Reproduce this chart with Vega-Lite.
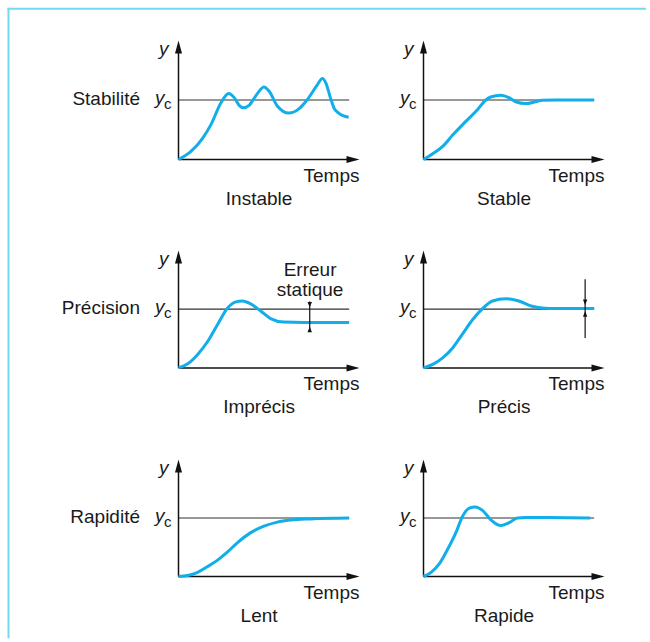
{
"$schema": "https://vega.github.io/schema/vega-lite/v6.json",
"padding": {"left": 6.5, "top": 6.5, "right": 0, "bottom": 0},
"autosize": {"type": "pad"},
"columns": 2,
"spacing": {"row": 91, "column": 64},
"bounds": "flush",
"datasets": {
"instable": [{"t":0,"y":0},{"t":0.7,"y":0.14},{"t":1.34,"y":0.36},{"t":1.8,"y":0.59},{"t":2.34,"y":0.95},{"t":2.77,"y":1.11},{"t":3.08,"y":1.04},{"t":3.35,"y":0.91},{"t":3.59,"y":0.87},{"t":3.9,"y":0.91},{"t":4.27,"y":1.07},{"t":4.72,"y":1.22},{"t":5.0,"y":1.15},{"t":5.46,"y":0.9},{"t":6.1,"y":0.78},{"t":6.65,"y":0.85},{"t":7.1,"y":1.0},{"t":7.66,"y":1.25},{"t":7.95,"y":1.36},{"t":8.15,"y":1.28},{"t":8.39,"y":1.04},{"t":8.6,"y":0.86},{"t":8.85,"y":0.78},{"t":9.4,"y":0.71}],
"stable": [{"t":0,"y":0},{"t":0.51,"y":0.095},{"t":1.06,"y":0.22},{"t":1.61,"y":0.41},{"t":2.34,"y":0.64},{"t":2.99,"y":0.84},{"t":3.44,"y":1.0},{"t":3.71,"y":1.05},{"t":4.27,"y":1.08},{"t":4.72,"y":1.04},{"t":5.09,"y":0.97},{"t":5.64,"y":0.94},{"t":6.19,"y":0.97},{"t":6.56,"y":0.995},{"t":7.29,"y":1.0},{"t":9.43,"y":1.0}],
"imprecis": [{"t":0,"y":0},{"t":0.51,"y":0.07},{"t":1.06,"y":0.23},{"t":1.61,"y":0.45},{"t":2.16,"y":0.74},{"t":2.71,"y":1.02},{"t":3.17,"y":1.125},{"t":3.53,"y":1.14},{"t":3.99,"y":1.09},{"t":4.54,"y":0.97},{"t":5.09,"y":0.84},{"t":5.82,"y":0.78},{"t":6.92,"y":0.775},{"t":9.43,"y":0.775}],
"precis": [{"t":0,"y":0},{"t":0.51,"y":0.06},{"t":1.06,"y":0.17},{"t":1.61,"y":0.34},{"t":2.16,"y":0.58},{"t":2.71,"y":0.82},{"t":3.26,"y":1.01},{"t":3.81,"y":1.14},{"t":4.54,"y":1.18},{"t":5.27,"y":1.14},{"t":6.0,"y":1.05},{"t":6.56,"y":1.02},{"t":7.29,"y":1.01},{"t":9.43,"y":1.01}],
"lent": [{"t":0,"y":0},{"t":0.51,"y":0.017},{"t":1.06,"y":0.072},{"t":1.61,"y":0.17},{"t":2.16,"y":0.28},{"t":2.71,"y":0.42},{"t":3.26,"y":0.58},{"t":3.99,"y":0.75},{"t":4.72,"y":0.86},{"t":5.46,"y":0.93},{"t":6.19,"y":0.965},{"t":7.29,"y":0.985},{"t":9.43,"y":1.0}],
"rapide": [{"t":0,"y":0},{"t":0.42,"y":0.07},{"t":0.88,"y":0.22},{"t":1.34,"y":0.47},{"t":1.79,"y":0.75},{"t":2.16,"y":1.03},{"t":2.53,"y":1.17},{"t":2.86,"y":1.19},{"t":3.26,"y":1.13},{"t":3.72,"y":0.97},{"t":4.27,"y":0.87},{"t":4.73,"y":0.92},{"t":5.18,"y":1.0},{"t":5.64,"y":1.01},{"t":6.92,"y":1.01},{"t":9.21,"y":1.0}]
},
"concat": [
{"width": 181, "height": 119, "layer": [
 {"data":{"values":[{}]},"mark":{"type":"rule","color":"#333333","strokeWidth":1.2},"encoding":{"x":{"datum":0,"type":"quantitative","scale":{"domain":[0,10],"nice":false,"zero":false}},"x2":{"datum":9.43},"y":{"datum":1,"type":"quantitative","scale":{"domain":[0,2],"nice":false,"zero":false}}}},
 {"data":{"values":[{}]},"mark":{"type":"rule","color":"#72d9ee","strokeWidth":2,"strokeCap":"square"},"encoding":{"x":{"datum":-9.392},"x2":{"datum":25.77},"y":{"datum":2.534}}},
 {"data":{"values":[{}]},"mark":{"type":"rule","color":"#72d9ee","strokeWidth":2,"strokeCap":"square"},"encoding":{"x":{"datum":-9.392},"y":{"datum":2.534},"y2":{"datum":-8.03}}},
 {"data":{"values":[{}]},"mark":{"type":"rule","color":"#111111","strokeWidth":1.5},"encoding":{"x":{"datum":0},"y":{"datum":0},"y2":{"datum":1.9}}},
 {"data":{"values":[{}]},"mark":{"type":"rule","color":"#111111","strokeWidth":1.5},"encoding":{"x":{"datum":0},"x2":{"datum":9.6},"y":{"datum":0}}},
 {"data":{"values":[{}]},"mark":{"type":"point","shape":"M0,0L0.54,2L-0.54,2Z","size":169,"filled":true,"color":"#111111","opacity":1},"encoding":{"x":{"datum":0},"y":{"datum":2}}},
 {"data":{"values":[{}]},"mark":{"type":"point","shape":"M0,0L-2,0.54L-2,-0.54Z","size":169,"filled":true,"color":"#111111","opacity":1},"encoding":{"x":{"datum":10},"y":{"datum":0}}},
 {"data":{"name":"instable"},"mark":{"type":"line"},"encoding":{"x":{"field":"t","type":"quantitative"},"y":{"field":"y","type":"quantitative"}}},
 {"data":{"values":[{}]},"mark":{"type":"text","text":"y","fontStyle":"italic","align":"right","baseline":"middle","dx":-10,"dy":8},"encoding":{"x":{"datum":0},"y":{"datum":2}}},
 {"data":{"values":[{}]},"mark":{"type":"text","text":"y","fontStyle":"italic","align":"right","baseline":"middle","dx":-14,"dy":-2},"encoding":{"x":{"datum":0},"y":{"datum":1}}},
 {"data":{"values":[{}]},"mark":{"type":"text","text":"c","fontSize":15,"align":"left","baseline":"middle","dx":-14.5,"dy":4},"encoding":{"x":{"datum":0},"y":{"datum":1}}},
 {"data":{"values":[{}]},"mark":{"type":"text","text":"Temps","align":"right","baseline":"middle","dy":16},"encoding":{"x":{"datum":10},"y":{"datum":0}}},
 {"data":{"values":[{}]},"mark":{"type":"text","text":"Instable","align":"center","baseline":"middle","dy":39},"encoding":{"x":{"datum":4.45},"y":{"datum":0}}},
 {"data":{"values":[{}]},"mark":{"type":"text","text":"Stabilité","align":"right","baseline":"middle","dx":-38.5,"dy":-1.5},"encoding":{"x":{"datum":0},"y":{"datum":1}}}
]},
{"width": 181, "height": 119, "layer": [
 {"data":{"values":[{}]},"mark":{"type":"rule","color":"#333333","strokeWidth":1.2},"encoding":{"x":{"datum":0,"type":"quantitative","scale":{"domain":[0,10],"nice":false,"zero":false}},"x2":{"datum":9.43},"y":{"datum":1,"type":"quantitative","scale":{"domain":[0,2],"nice":false,"zero":false}}}},
 {"data":{"values":[{}]},"mark":{"type":"rule","color":"#111111","strokeWidth":1.5},"encoding":{"x":{"datum":0},"y":{"datum":0},"y2":{"datum":1.9}}},
 {"data":{"values":[{}]},"mark":{"type":"rule","color":"#111111","strokeWidth":1.5},"encoding":{"x":{"datum":0},"x2":{"datum":9.6},"y":{"datum":0}}},
 {"data":{"values":[{}]},"mark":{"type":"point","shape":"M0,0L0.54,2L-0.54,2Z","size":169,"filled":true,"color":"#111111","opacity":1},"encoding":{"x":{"datum":0},"y":{"datum":2}}},
 {"data":{"values":[{}]},"mark":{"type":"point","shape":"M0,0L-2,0.54L-2,-0.54Z","size":169,"filled":true,"color":"#111111","opacity":1},"encoding":{"x":{"datum":10},"y":{"datum":0}}},
 {"data":{"name":"stable"},"mark":{"type":"line"},"encoding":{"x":{"field":"t","type":"quantitative"},"y":{"field":"y","type":"quantitative"}}},
 {"data":{"values":[{}]},"mark":{"type":"text","text":"y","fontStyle":"italic","align":"right","baseline":"middle","dx":-10,"dy":8},"encoding":{"x":{"datum":0},"y":{"datum":2}}},
 {"data":{"values":[{}]},"mark":{"type":"text","text":"y","fontStyle":"italic","align":"right","baseline":"middle","dx":-14,"dy":-2},"encoding":{"x":{"datum":0},"y":{"datum":1}}},
 {"data":{"values":[{}]},"mark":{"type":"text","text":"c","fontSize":15,"align":"left","baseline":"middle","dx":-14.5,"dy":4},"encoding":{"x":{"datum":0},"y":{"datum":1}}},
 {"data":{"values":[{}]},"mark":{"type":"text","text":"Temps","align":"right","baseline":"middle","dy":16},"encoding":{"x":{"datum":10},"y":{"datum":0}}},
 {"data":{"values":[{}]},"mark":{"type":"text","text":"Stable","align":"center","baseline":"middle","dy":39},"encoding":{"x":{"datum":4.45},"y":{"datum":0}}}
]},
{"width": 181, "height": 117.4, "layer": [
 {"data":{"values":[{}]},"mark":{"type":"rule","color":"#333333","strokeWidth":1.2},"encoding":{"x":{"datum":0,"type":"quantitative","scale":{"domain":[0,10],"nice":false,"zero":false}},"x2":{"datum":9.43},"y":{"datum":1,"type":"quantitative","scale":{"domain":[0,2],"nice":false,"zero":false}}}},
 {"data":{"values":[{}]},"mark":{"type":"rule","color":"#111111","strokeWidth":1.5},"encoding":{"x":{"datum":0},"y":{"datum":0},"y2":{"datum":1.9}}},
 {"data":{"values":[{}]},"mark":{"type":"rule","color":"#111111","strokeWidth":1.5},"encoding":{"x":{"datum":0},"x2":{"datum":9.6},"y":{"datum":0}}},
 {"data":{"values":[{}]},"mark":{"type":"point","shape":"M0,0L0.54,2L-0.54,2Z","size":169,"filled":true,"color":"#111111","opacity":1},"encoding":{"x":{"datum":0},"y":{"datum":2}}},
 {"data":{"values":[{}]},"mark":{"type":"point","shape":"M0,0L-2,0.54L-2,-0.54Z","size":169,"filled":true,"color":"#111111","opacity":1},"encoding":{"x":{"datum":10},"y":{"datum":0}}},
 {"data":{"name":"imprecis"},"mark":{"type":"line"},"encoding":{"x":{"field":"t","type":"quantitative"},"y":{"field":"y","type":"quantitative"}}},
 {"data":{"values":[{}]},"mark":{"type":"rule","color":"#111111","strokeWidth":1.2},"encoding":{"x":{"datum":7.25},"y":{"datum":1.13},"y2":{"datum":0.63}}},
 {"data":{"values":[{}]},"mark":{"type":"point","shape":"M0,0L-0.8,-2L0.8,-2Z","size":30,"filled":true,"color":"#111111","opacity":1},"encoding":{"x":{"datum":7.25},"y":{"datum":1.03}}},
 {"data":{"values":[{}]},"mark":{"type":"point","shape":"M0,0L-0.8,2L0.8,2Z","size":30,"filled":true,"color":"#111111","opacity":1},"encoding":{"x":{"datum":7.25},"y":{"datum":0.7}}},
 {"data":{"values":[{}]},"mark":{"type":"text","text":"Erreur","align":"center","baseline":"middle"},"encoding":{"x":{"datum":7.27},"y":{"datum":1.66}}},
 {"data":{"values":[{}]},"mark":{"type":"text","text":"statique","align":"center","baseline":"middle"},"encoding":{"x":{"datum":7.27},"y":{"datum":1.33}}},
 {"data":{"values":[{}]},"mark":{"type":"text","text":"y","fontStyle":"italic","align":"right","baseline":"middle","dx":-10,"dy":8},"encoding":{"x":{"datum":0},"y":{"datum":2}}},
 {"data":{"values":[{}]},"mark":{"type":"text","text":"y","fontStyle":"italic","align":"right","baseline":"middle","dx":-14,"dy":-2},"encoding":{"x":{"datum":0},"y":{"datum":1}}},
 {"data":{"values":[{}]},"mark":{"type":"text","text":"c","fontSize":15,"align":"left","baseline":"middle","dx":-14.5,"dy":4},"encoding":{"x":{"datum":0},"y":{"datum":1}}},
 {"data":{"values":[{}]},"mark":{"type":"text","text":"Temps","align":"right","baseline":"middle","dy":16},"encoding":{"x":{"datum":10},"y":{"datum":0}}},
 {"data":{"values":[{}]},"mark":{"type":"text","text":"Imprécis","align":"center","baseline":"middle","dy":39},"encoding":{"x":{"datum":4.45},"y":{"datum":0}}},
 {"data":{"values":[{}]},"mark":{"type":"text","text":"Précision","align":"right","baseline":"middle","dx":-38.5,"dy":-1.5},"encoding":{"x":{"datum":0},"y":{"datum":1}}}
]},
{"width": 181, "height": 117.4, "layer": [
 {"data":{"values":[{}]},"mark":{"type":"rule","color":"#333333","strokeWidth":1.2},"encoding":{"x":{"datum":0,"type":"quantitative","scale":{"domain":[0,10],"nice":false,"zero":false}},"x2":{"datum":9.43},"y":{"datum":1,"type":"quantitative","scale":{"domain":[0,2],"nice":false,"zero":false}}}},
 {"data":{"values":[{}]},"mark":{"type":"rule","color":"#111111","strokeWidth":1.5},"encoding":{"x":{"datum":0},"y":{"datum":0},"y2":{"datum":1.9}}},
 {"data":{"values":[{}]},"mark":{"type":"rule","color":"#111111","strokeWidth":1.5},"encoding":{"x":{"datum":0},"x2":{"datum":9.6},"y":{"datum":0}}},
 {"data":{"values":[{}]},"mark":{"type":"point","shape":"M0,0L0.54,2L-0.54,2Z","size":169,"filled":true,"color":"#111111","opacity":1},"encoding":{"x":{"datum":0},"y":{"datum":2}}},
 {"data":{"values":[{}]},"mark":{"type":"point","shape":"M0,0L-2,0.54L-2,-0.54Z","size":169,"filled":true,"color":"#111111","opacity":1},"encoding":{"x":{"datum":10},"y":{"datum":0}}},
 {"data":{"name":"precis"},"mark":{"type":"line"},"encoding":{"x":{"field":"t","type":"quantitative"},"y":{"field":"y","type":"quantitative"}}},
 {"data":{"values":[{}]},"mark":{"type":"rule","color":"#111111","strokeWidth":1.2},"encoding":{"x":{"datum":8.93},"y":{"datum":1.51},"y2":{"datum":0.51}}},
 {"data":{"values":[{}]},"mark":{"type":"point","shape":"M0,0L-0.8,-2L0.8,-2Z","size":30,"filled":true,"color":"#111111","opacity":1},"encoding":{"x":{"datum":8.93},"y":{"datum":1.07}}},
 {"data":{"values":[{}]},"mark":{"type":"point","shape":"M0,0L-0.8,2L0.8,2Z","size":30,"filled":true,"color":"#111111","opacity":1},"encoding":{"x":{"datum":8.93},"y":{"datum":0.965}}},
 {"data":{"values":[{}]},"mark":{"type":"text","text":"y","fontStyle":"italic","align":"right","baseline":"middle","dx":-10,"dy":8},"encoding":{"x":{"datum":0},"y":{"datum":2}}},
 {"data":{"values":[{}]},"mark":{"type":"text","text":"y","fontStyle":"italic","align":"right","baseline":"middle","dx":-14,"dy":-2},"encoding":{"x":{"datum":0},"y":{"datum":1}}},
 {"data":{"values":[{}]},"mark":{"type":"text","text":"c","fontSize":15,"align":"left","baseline":"middle","dx":-14.5,"dy":4},"encoding":{"x":{"datum":0},"y":{"datum":1}}},
 {"data":{"values":[{}]},"mark":{"type":"text","text":"Temps","align":"right","baseline":"middle","dy":16},"encoding":{"x":{"datum":10},"y":{"datum":0}}},
 {"data":{"values":[{}]},"mark":{"type":"text","text":"Précis","align":"center","baseline":"middle","dy":39},"encoding":{"x":{"datum":4.45},"y":{"datum":0}}}
]},
{"width": 181, "height": 117, "layer": [
 {"data":{"values":[{}]},"mark":{"type":"rule","color":"#333333","strokeWidth":1.2},"encoding":{"x":{"datum":0,"type":"quantitative","scale":{"domain":[0,10],"nice":false,"zero":false}},"x2":{"datum":9.43},"y":{"datum":1,"type":"quantitative","scale":{"domain":[0,2],"nice":false,"zero":false}}}},
 {"data":{"values":[{}]},"mark":{"type":"rule","color":"#111111","strokeWidth":1.5},"encoding":{"x":{"datum":0},"y":{"datum":0},"y2":{"datum":1.9}}},
 {"data":{"values":[{}]},"mark":{"type":"rule","color":"#111111","strokeWidth":1.5},"encoding":{"x":{"datum":0},"x2":{"datum":9.6},"y":{"datum":0}}},
 {"data":{"values":[{}]},"mark":{"type":"point","shape":"M0,0L0.54,2L-0.54,2Z","size":169,"filled":true,"color":"#111111","opacity":1},"encoding":{"x":{"datum":0},"y":{"datum":2}}},
 {"data":{"values":[{}]},"mark":{"type":"point","shape":"M0,0L-2,0.54L-2,-0.54Z","size":169,"filled":true,"color":"#111111","opacity":1},"encoding":{"x":{"datum":10},"y":{"datum":0}}},
 {"data":{"name":"lent"},"mark":{"type":"line"},"encoding":{"x":{"field":"t","type":"quantitative"},"y":{"field":"y","type":"quantitative"}}},
 {"data":{"values":[{}]},"mark":{"type":"text","text":"y","fontStyle":"italic","align":"right","baseline":"middle","dx":-10,"dy":8},"encoding":{"x":{"datum":0},"y":{"datum":2}}},
 {"data":{"values":[{}]},"mark":{"type":"text","text":"y","fontStyle":"italic","align":"right","baseline":"middle","dx":-14,"dy":-2},"encoding":{"x":{"datum":0},"y":{"datum":1}}},
 {"data":{"values":[{}]},"mark":{"type":"text","text":"c","fontSize":15,"align":"left","baseline":"middle","dx":-14.5,"dy":4},"encoding":{"x":{"datum":0},"y":{"datum":1}}},
 {"data":{"values":[{}]},"mark":{"type":"text","text":"Temps","align":"right","baseline":"middle","dy":16},"encoding":{"x":{"datum":10},"y":{"datum":0}}},
 {"data":{"values":[{}]},"mark":{"type":"text","text":"Lent","align":"center","baseline":"middle","dy":39},"encoding":{"x":{"datum":4.45},"y":{"datum":0}}},
 {"data":{"values":[{}]},"mark":{"type":"text","text":"Rapidité","align":"right","baseline":"middle","dx":-38.5,"dy":-1.5},"encoding":{"x":{"datum":0},"y":{"datum":1}}}
]},
{"width": 181, "height": 117, "layer": [
 {"data":{"values":[{}]},"mark":{"type":"rule","color":"#333333","strokeWidth":1.2},"encoding":{"x":{"datum":0,"type":"quantitative","scale":{"domain":[0,10],"nice":false,"zero":false}},"x2":{"datum":9.43},"y":{"datum":1,"type":"quantitative","scale":{"domain":[0,2],"nice":false,"zero":false}}}},
 {"data":{"values":[{}]},"mark":{"type":"rule","color":"#111111","strokeWidth":1.5},"encoding":{"x":{"datum":0},"y":{"datum":0},"y2":{"datum":1.9}}},
 {"data":{"values":[{}]},"mark":{"type":"rule","color":"#111111","strokeWidth":1.5},"encoding":{"x":{"datum":0},"x2":{"datum":9.6},"y":{"datum":0}}},
 {"data":{"values":[{}]},"mark":{"type":"point","shape":"M0,0L0.54,2L-0.54,2Z","size":169,"filled":true,"color":"#111111","opacity":1},"encoding":{"x":{"datum":0},"y":{"datum":2}}},
 {"data":{"values":[{}]},"mark":{"type":"point","shape":"M0,0L-2,0.54L-2,-0.54Z","size":169,"filled":true,"color":"#111111","opacity":1},"encoding":{"x":{"datum":10},"y":{"datum":0}}},
 {"data":{"name":"rapide"},"mark":{"type":"line"},"encoding":{"x":{"field":"t","type":"quantitative"},"y":{"field":"y","type":"quantitative"}}},
 {"data":{"values":[{}]},"mark":{"type":"text","text":"y","fontStyle":"italic","align":"right","baseline":"middle","dx":-10,"dy":8},"encoding":{"x":{"datum":0},"y":{"datum":2}}},
 {"data":{"values":[{}]},"mark":{"type":"text","text":"y","fontStyle":"italic","align":"right","baseline":"middle","dx":-14,"dy":-2},"encoding":{"x":{"datum":0},"y":{"datum":1}}},
 {"data":{"values":[{}]},"mark":{"type":"text","text":"c","fontSize":15,"align":"left","baseline":"middle","dx":-14.5,"dy":4},"encoding":{"x":{"datum":0},"y":{"datum":1}}},
 {"data":{"values":[{}]},"mark":{"type":"text","text":"Temps","align":"right","baseline":"middle","dy":16},"encoding":{"x":{"datum":10},"y":{"datum":0}}},
 {"data":{"values":[{}]},"mark":{"type":"text","text":"Rapide","align":"center","baseline":"middle","dy":39},"encoding":{"x":{"datum":4.45},"y":{"datum":0}}}
]}
],
"config": {
 "view": {"stroke": null},
 "axis": {"disable": true},
 "text": {"font": "Liberation Sans", "fontSize": 19, "color": "#1a1a1a"},
 "line": {"color": "#12aeea", "strokeWidth": 3, "interpolate": "monotone"}
}
}
